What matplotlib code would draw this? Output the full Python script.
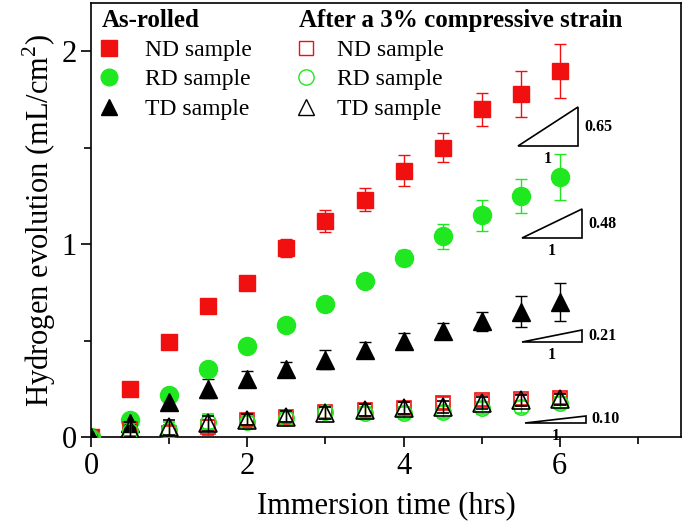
import numpy as np
import matplotlib
matplotlib.use('Agg')
import matplotlib.pyplot as plt
from matplotlib.lines import Line2D
from matplotlib.ticker import MultipleLocator

plt.rcParams['font.family'] = 'Liberation Serif'
plt.rcParams['mathtext.fontset'] = 'custom'
plt.rcParams['mathtext.rm'] = 'Liberation Serif'

###: data
t = [0, 0.5, 1, 1.5, 2, 2.5, 3, 3.5, 4, 4.5, 5, 5.5, 6]

nd_rolled = [0, 0.25, 0.49, 0.68, 0.80, 0.98, 1.12, 1.23, 1.38, 1.50, 1.70, 1.78, 1.90]
nd_rolled_err = [0, 0.01, 0.02, 0.02, 0.03, 0.045, 0.055, 0.06, 0.08, 0.075, 0.085, 0.12, 0.14]
rd_rolled = [0, 0.09, 0.22, 0.35, 0.47, 0.58, 0.69, 0.81, 0.93, 1.04, 1.15, 1.25, 1.35]
rd_rolled_err = [0, 0.01, 0.02, 0.02, 0.02, 0.03, 0.03, 0.03, 0.04, 0.065, 0.08, 0.09, 0.12]
td_rolled = [0, 0.07, 0.18, 0.25, 0.30, 0.35, 0.40, 0.45, 0.50, 0.55, 0.60, 0.65, 0.70]
td_rolled_err = [0, 0.04, 0.04, 0.05, 0.04, 0.04, 0.05, 0.04, 0.04, 0.04, 0.05, 0.08, 0.10]

nd_strain = [0, 0.04, 0.02, 0.05, 0.09, 0.105, 0.13, 0.14, 0.15, 0.175, 0.19, 0.195, 0.20]
rd_strain = [0, 0.03, 0.035, 0.08, 0.08, 0.10, 0.13, 0.125, 0.125, 0.13, 0.15, 0.155, 0.175]
td_strain = [0, 0.04, 0.05, 0.07, 0.09, 0.105, 0.125, 0.14, 0.15, 0.155, 0.175, 0.19, 0.195]
strain_err = [0, 0.04, 0.04, 0.04, 0.03, 0.03, 0.03, 0.03, 0.03, 0.03, 0.03, 0.03, 0.03]

# slope triangles: x0, x1, y0, y1, label
slopes = [(5.46, 6.23, 1.51, 1.71, '0.65'),
          (5.51, 6.28, 1.03, 1.18, '0.48'),
          (5.51, 6.28, 0.49, 0.555, '0.21'),
          (5.56, 6.33, 0.073, 0.11, '0.10')]

red = '#f01010'
green = '#20e820'

fig = plt.figure(figsize=(6.85, 5.29), dpi=100)
ax = fig.add_axes([0.133, 0.174, 0.861, 0.820])

###: as-rolled (filled)
ax.errorbar(t, nd_rolled, yerr=nd_rolled_err, fmt='s', color=red, ms=11.5,
            ecolor=red, elinewidth=1, capsize=4, mec=red, zorder=3)
ax.errorbar(t, rd_rolled, yerr=rd_rolled_err, fmt='o', color=green, ms=13,
            ecolor=green, elinewidth=1, capsize=4, mec=green, zorder=3)
ax.errorbar(t, td_rolled, yerr=td_rolled_err, fmt='^', color='black', ms=13,
            ecolor='black', elinewidth=1, capsize=4, zorder=3)

###: after 3% strain (open)
ax.errorbar(t, nd_strain, yerr=strain_err, fmt='s', mfc='none', mec=red, ms=9.5,
            ecolor=red, elinewidth=1, capsize=4, mew=1.2, zorder=4)
ax.errorbar(t, rd_strain, yerr=strain_err, fmt='o', mfc='none', mec=green, ms=11,
            ecolor=green, elinewidth=1, capsize=4, mew=1.2, zorder=4)
ax.errorbar(t, td_strain, yerr=strain_err, fmt='^', mfc='none', mec='black', ms=13,
            ecolor='black', elinewidth=1, capsize=4, mew=1.2, zorder=5)

###: slope triangles
for x0, x1, y0, y1, lab in slopes:
    ax.fill([x0, x1, x1], [y0, y0, y1], facecolor='white', edgecolor='black', lw=1.2, zorder=6)
    ax.text(x1 + 0.08, (y0 + y1) / 2, lab, fontsize=11.5, fontweight='bold', va='center', ha='left')
    ax.text((x0 + x1) / 2, y0 - 0.025, '1', fontsize=11.5, fontweight='bold', va='top', ha='center')

ax.set_xlim(0, 7.55)
ax.set_ylim(0, 2.25)
ax.xaxis.set_major_locator(MultipleLocator(2))
ax.xaxis.set_minor_locator(MultipleLocator(1))
ax.yaxis.set_major_locator(MultipleLocator(1))
ax.yaxis.set_minor_locator(MultipleLocator(0.5))
ax.tick_params(which='both', direction='out', labelsize=22, width=1.2)
ax.tick_params(which='major', length=7)
ax.tick_params(which='minor', length=5)
for s in ax.spines.values():
    s.set_linewidth(1.2)

ax.set_xlabel('Immersion time (hrs)', fontsize=22, labelpad=8)
ax.set_ylabel('Hydrogen evolution (mL/cm$^2$)', fontsize=22, labelpad=2)

###: legends
h1 = [Line2D([], [], ls='none', marker='s', color=red, ms=11),
      Line2D([], [], ls='none', marker='o', color=green, ms=12),
      Line2D([], [], ls='none', marker='^', color='black', ms=12)]
h2 = [Line2D([], [], ls='none', marker='s', mfc='none', mec=red, ms=10),
      Line2D([], [], ls='none', marker='o', mfc='none', mec=green, ms=11),
      Line2D([], [], ls='none', marker='^', mfc='none', mec='black', ms=12)]
labels = ['ND sample', 'RD sample', 'TD sample']

leg1 = ax.legend(h1, labels, loc='upper left', bbox_to_anchor=(-0.01, 1.025), frameon=False,
                 fontsize=17, title='As-rolled', title_fontproperties={'weight': 'bold', 'size': 18},
                 alignment='left', handlelength=0.6, handletextpad=1.25, labelspacing=0.33,
                 borderaxespad=0.3)
ax.add_artist(leg1)
ax.legend(h2, labels, loc='upper left', bbox_to_anchor=(0.325, 1.025), frameon=False,
          fontsize=17, title='After a 3% compressive strain',
          title_fontproperties={'weight': 'bold', 'size': 18},
          alignment='left', handlelength=0.6, handletextpad=1.0, labelspacing=0.33,
          borderaxespad=0.3)

fig.savefig('out.png', dpi=100)
